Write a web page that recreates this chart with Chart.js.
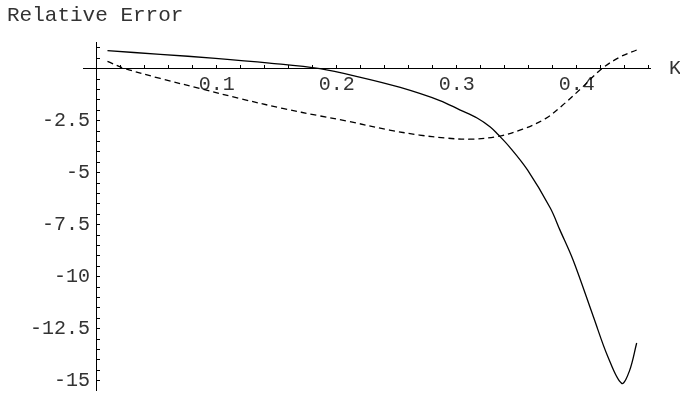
<!DOCTYPE html>
<html>
<head>
<meta charset="utf-8">
<script src="https://cdn.jsdelivr.net/npm/chart.js@4"></script>
<style>
  html, body { margin: 0; padding: 0; background: #fff; }
  #wrap { width: 680px; height: 393px; position: relative; }
</style>
</head>
<body>
<div id="wrap"><canvas id="errChart"></canvas></div>
<script>
// solid curve
const solidK = [0.009, 0.053, 0.099, 0.144, 0.186, 0.219, 0.253, 0.286, 0.303, 0.317, 0.328, 0.334, 0.344, 0.359, 0.378, 0.386, 0.397, 0.414, 0.426, 0.4375, 0.444, 0.450];
const solidErr = [0.87, 0.69, 0.50, 0.27, 0, -0.40, -0.90, -1.53, -1.99, -2.37, -2.80, -3.14, -3.76, -4.87, -6.70, -7.75, -9.20, -11.94, -13.85, -15.13, -14.53, -13.19];

// dashed curve
const dashK = [0.009, 0.024, 0.053, 0.086, 0.119, 0.155, 0.186, 0.208, 0.244, 0.269, 0.290, 0.311, 0.334, 0.355, 0.374, 0.388, 0.404, 0.421, 0.436, 0.450];
const dashErr = [0.35, 0, -0.47, -0.95, -1.43, -1.91, -2.27, -2.51, -2.95, -3.19, -3.33, -3.39, -3.26, -2.91, -2.40, -1.77, -0.93, 0, 0.56, 0.90];

// labelled ticks
const xTickLabels = [0.1, 0.2, 0.3, 0.4];
const yTickLabels = [-2.5, -5, -7.5, -10, -12.5, -15];

const FONT = "'Liberation Mono', 'Courier New', monospace";
const INK = '#333';

Chart.defaults.font.family = FONT;
Chart.defaults.font.size = 20;
Chart.defaults.color = INK;

function toPoints(xs, ys) {
    return xs.map((x, i) => ({ x: x, y: ys[i] }));
}

function isLabelled(list, v) {
    return list.some(t => Math.abs(t - v) < 1e-6);
}

function noPadding(scale) {
    scale.paddingTop = 0;
    scale.paddingBottom = 0;
    scale.paddingLeft = 0;
    scale.paddingRight = 0;
}

// axis caption and K label
const axisText = {
    id: 'axisText',
    afterDraw(chart) {
        const ctx = chart.ctx;
        const y0 = chart.scales.y.getPixelForValue(0);
        ctx.save();
        ctx.font = '20px ' + FONT;
        ctx.fillStyle = INK;
        ctx.textBaseline = 'middle';
        ctx.fillText('K', chart.chartArea.right + 19, y0);
        ctx.font = '21px ' + FONT;
        ctx.textBaseline = 'alphabetic';
        ctx.fillText('Relative Error', 7, 21);
        ctx.restore();
    }
};

const Y_MIN = -15.45;
const Y_MAX = 1.284;

new Chart(document.getElementById('errChart'), {
    type: 'scatter',
    data: {
        datasets: [
            {
                data: toPoints(solidK, solidErr),
                showLine: true,
                borderColor: '#000',
                borderWidth: 1.3,
                pointRadius: 0,
                tension: 0.35
            },
            {
                data: toPoints(dashK, dashErr),
                showLine: true,
                borderColor: '#000',
                borderWidth: 1.3,
                borderDash: [6, 4],
                pointRadius: 0,
                tension: 0.35
            }
        ]
    },
    options: {
        responsive: true,
        maintainAspectRatio: false,
        animation: false,
        layout: { padding: { left: 0, right: 30, top: 42, bottom: 3 } },
        plugins: {
            legend: { display: false },
            tooltip: { enabled: false }
        },
        scales: {
            x: {
                type: 'linear',
                position: { y: 0 },
                min: -0.0114,
                max: 0.4611,
                afterFit: noPadding,
                border: { display: true, color: '#000', width: 1 },
                grid: { drawOnChartArea: false, drawTicks: true, tickLength: -4, tickColor: '#000' },
                ticks: {
                    stepSize: 0.02,
                    includeBounds: false,
                    autoSkip: false,
                    maxRotation: 0,
                    padding: 8,
                    callback: function(value) {
                        return isLabelled(xTickLabels, value) ? value.toFixed(1) : '';
                    }
                }
            },
            // y axis line and tick marks, crossing at K = 0
            y: {
                type: 'linear',
                position: { x: 0 },
                min: Y_MIN,
                max: Y_MAX,
                afterFit: noPadding,
                border: { display: true, color: '#000', width: 1 },
                grid: { drawOnChartArea: false, drawTicks: true, tickLength: -4, tickColor: '#000' },
                ticks: {
                    stepSize: 0.5,
                    includeBounds: false,
                    autoSkip: false,
                    callback: () => ''
                }
            },
            // y tick labels, left of the axis line (mirrored so they are not clipped)
            yLabels: {
                type: 'linear',
                position: 'left',
                min: Y_MIN,
                max: Y_MAX,
                afterFit: function(scale) {
                    noPadding(scale);
                    scale.width = 83;
                },
                border: { display: false },
                grid: { display: false, drawTicks: false },
                ticks: {
                    stepSize: 2.5,
                    includeBounds: false,
                    autoSkip: false,
                    mirror: true,
                    crossAlign: 'far',
                    padding: -53,
                    callback: function(value) {
                        return isLabelled(yTickLabels, value) ? String(Math.round(value * 10) / 10) : '';
                    }
                }
            }
        }
    },
    plugins: [axisText]
});
</script>
</body>
</html>
